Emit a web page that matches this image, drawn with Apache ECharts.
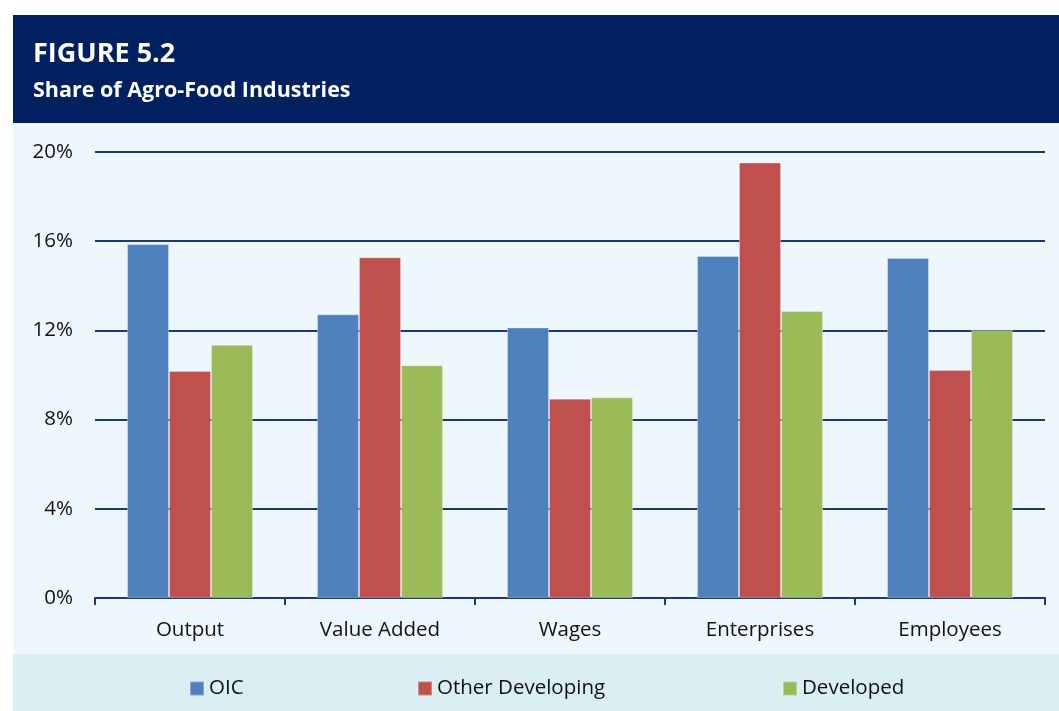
<!DOCTYPE html>
<html>
<head>
<meta charset="utf-8">
<script src="https://cdn.jsdelivr.net/npm/echarts@6/dist/echarts.min.js"></script>
<style>
  html, body { margin: 0; padding: 0; background: #ffffff; }
  #chart { width: 1059px; height: 711px; }
</style>
</head>
<body>
<div id="chart"></div>
<script>
// Industry indicators on the category axis
const categories = ['Output', 'Value Added', 'Wages', 'Enterprises', 'Employees'];

// Share of agro-food industries (%) per country group
const oicValues = [15.87, 12.72, 12.13, 15.34, 15.25];
const otherDevelopingValues = [10.18, 15.28, 8.94, 19.53, 10.22];
const developedValues = [11.36, 10.44, 9.0, 12.87, 12.01];

// Value axis ticks
const yTicks = [0, 4, 8, 12, 16, 20];

const FONT = '"Open Sans", "Noto Sans", sans-serif';
const chart = echarts.init(document.getElementById('chart'), null, { renderer: 'canvas' });

const seriesDefs = [
  { name: 'OIC', data: oicValues, color: '#4F81BD' },
  { name: 'Other Developing', data: otherDevelopingValues, color: '#C0504D' },
  { name: 'Developed', data: developedValues, color: '#9BBB59' }
];
const legendLefts = [189, 417, 782];

chart.setOption({
  animation: false,
  textStyle: { fontFamily: FONT },
  graphic: [
    // header band, plot panel and legend band
    { type: 'rect', silent: true, z: -10, shape: { x: 13, y: 15, width: 1046, height: 108 }, style: { fill: '#00205F' } },
    { type: 'rect', silent: true, z: -10, shape: { x: 13, y: 123, width: 1046, height: 531 }, style: { fill: '#EEF6FE' } },
    { type: 'rect', silent: true, z: -10, shape: { x: 13, y: 654, width: 1046, height: 57 }, style: { fill: '#DAEEF3' } }
  ],
  title: [
    { text: 'FIGURE 5.2', left: 33, top: 41, padding: 0, textStyle: { color: '#ffffff', fontFamily: FONT, fontWeight: 'bold', fontSize: 27 } },
    { text: 'Share of Agro-Food Industries', left: 33, top: 80, padding: 0, textStyle: { color: '#ffffff', fontFamily: FONT, fontWeight: 'bold', fontSize: 21.5 } }
  ],
  legend: seriesDefs.map((s, i) => ({
    data: [s.name],
    left: legendLefts[i],
    top: 678,
    padding: 0,
    itemWidth: 14,
    itemHeight: 14,
    icon: 'rect',
    textStyle: { fontFamily: FONT, fontSize: 20.5, color: '#111111' }
  })),
  grid: { left: 95, right: 14, top: 152, bottom: 113 },
  xAxis: {
    type: 'category',
    data: categories,
    axisLine: { lineStyle: { color: '#1F3A6E', width: 2 } },
    axisTick: { show: true, length: 7, lineStyle: { color: '#1F3A6E', width: 2 } },
    axisLabel: { fontFamily: FONT, fontSize: 20.5, color: '#111111', margin: 22 }
  },
  yAxis: {
    type: 'value',
    min: yTicks[0],
    max: yTicks[yTicks.length - 1],
    interval: yTicks[1] - yTicks[0],
    axisLine: { show: false },
    axisTick: { show: false },
    axisLabel: { fontFamily: FONT, fontSize: 20.5, color: '#111111', margin: 22, formatter: v => v + '%' },
    splitLine: { lineStyle: { color: '#1F3A6E', width: 2 } }
  },
  series: seriesDefs.map(s => ({
    name: s.name,
    type: 'bar',
    data: s.data,
    barGap: '0%',
    barCategoryGap: '33.7%',
    itemStyle: { color: s.color, borderColor: 'rgba(255,255,255,0.3)', borderWidth: 1 }
  }))
});
</script>
</body>
</html>
